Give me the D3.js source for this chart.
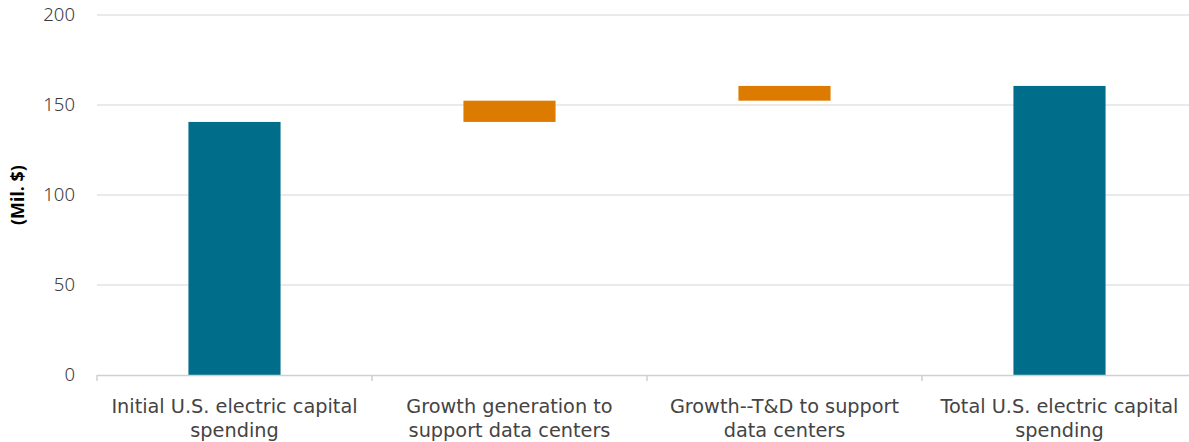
<!DOCTYPE html>
<html><head><meta charset="utf-8">
<script src="https://cdn.jsdelivr.net/npm/d3@7"></script>
<style>body{margin:0;background:#fff;}svg{display:block;}</style>
</head><body>
<svg id="c" width="1189" height="442"></svg>
<script>
const categories = [
  ["Initial U.S. electric capital", "spending"],
  ["Growth generation to", "support data centers"],
  ["Growth--T&D to support", "data centers"],
  ["Total U.S. electric capital", "spending"]
];
const values = [140.6, 11.8, 8.2, 160.6];
const kinds = ["total", "delta", "delta", "total"];
const yTicks = [0, 50, 100, 150, 200];
const yTitle = "(Mil. $)";
const colors = {total: "#006e8a", delta: "#dd7a00"};

let run = 0;
const bars = values.map((v, i) => {
  let y0, y1;
  if (kinds[i] === "total") { y0 = 0; y1 = v; run = v; }
  else { y0 = run; y1 = run + v; run = y1; }
  return {i, y0, y1, kind: kinds[i]};
});

const svg = d3.select("#c");
const x = d3.scaleBand().domain(d3.range(categories.length)).range([97, 1197]).paddingInner(0).paddingOuter(0);
const y = d3.scaleLinear().domain([0, 200]).range([375, 15]);
const font = "'Noto Sans', sans-serif";
const catFont = "'DejaVu Sans', sans-serif";

svg.append("g").selectAll("line").data(yTicks.filter(d => d > 0)).join("line")
  .attr("x1", 97).attr("x2", 1189)
  .attr("y1", d => y(d)).attr("y2", d => y(d))
  .attr("stroke", "#e3e3e3").attr("stroke-width", 1.5);

svg.append("g").selectAll("text").data(yTicks).join("text")
  .attr("x", 75).attr("y", d => y(d)).attr("dy", "0.35em")
  .attr("text-anchor", "end").attr("font-family", font).attr("font-size", 18.5)
  .attr("font-weight", 300)
  .attr("fill", "#3a3a3a").text(d => d);

svg.append("text").attr("transform", `translate(24,${y(100)}) rotate(-90)`)
  .attr("text-anchor", "middle").attr("font-family", font).attr("font-size", 18)
  .attr("font-weight", "bold").attr("fill", "#000").text(yTitle);

const bw = x.bandwidth() * 0.335;
svg.append("g").selectAll("rect").data(bars).join("rect")
  .attr("x", d => x(d.i) + x.bandwidth() / 2 - bw / 2)
  .attr("width", bw)
  .attr("y", d => y(d.y1))
  .attr("height", d => y(d.y0) - y(d.y1))
  .attr("fill", d => colors[d.kind]);

const ax = svg.append("g");
ax.append("line").attr("x1", 97).attr("x2", 1189).attr("y1", y(0)+0.5).attr("y2", y(0)+0.5)
  .attr("stroke", "#d0d0d0").attr("stroke-width", 1.5);
ax.selectAll("line.tick").data(d3.range(categories.length + 1)).join("line").attr("class", "tick")
  .attr("x1", d => 97 + d * x.bandwidth()).attr("x2", d => 97 + d * x.bandwidth())
  .attr("y1", y(0)).attr("y2", y(0) + 6)
  .attr("stroke", "#d0d0d0").attr("stroke-width", 1.5);

categories.forEach((d, i) => {
  d.forEach((line, k) => {
    ax.append("text").attr("class", "cat")
      .attr("x", x(i) + x.bandwidth() / 2).attr("y", 413 + k * 24)
      .attr("text-anchor", "middle").attr("font-family", catFont).attr("font-size", 19.3)
      .attr("font-weight", "normal").attr("fill", "#444").text(line);
  });
});
</script>
</body></html>
